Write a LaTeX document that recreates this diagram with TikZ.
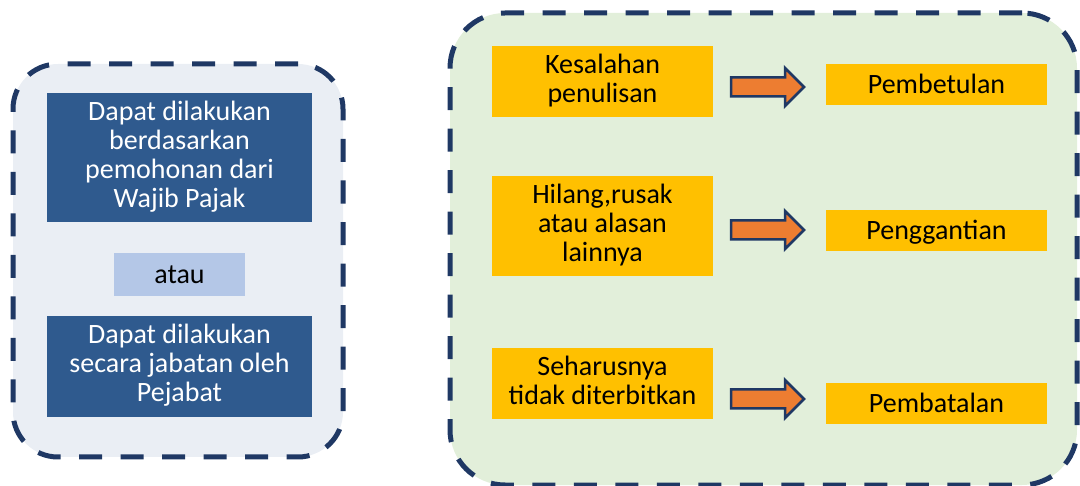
\documentclass[tikz,border=0pt]{standalone}
\usepackage{fontspec}
\setmainfont{Carlito}
\definecolor{navy}{HTML}{1F3864}
\definecolor{panelgray}{HTML}{EAEEF4}
\definecolor{panelgreen}{HTML}{E2EFDA}
\definecolor{boxblue}{HTML}{2F5A8E}
\definecolor{lightblue}{HTML}{B4C7E7}
\definecolor{boxyellow}{HTML}{FFC000}
\definecolor{arroworange}{HTML}{ED7D31}
\tikzset{
  container/.style={draw=navy, line width=5pt, dash pattern=on 23pt off 18.5pt, inner sep=0pt},
  txt/.style={font=\fontsize{28}{29}\selectfont, align=center, inner sep=0pt,
    execute at begin node={\rule{0pt}{26pt}}, execute at end node={\rule[-7pt]{0pt}{0pt}}},
  bluebox/.style={txt, fill=boxblue, text=white, minimum width=265pt},
  orbox/.style={txt, fill=lightblue, text=black, minimum width=131pt, minimum height=43pt},
  ybox/.style={txt, fill=boxyellow, text=black, minimum width=221pt},
  blockarrow/.style={draw=navy, fill=arroworange, line width=2.5pt, line join=miter},
}
\newcommand\fatarrow[1]{%
  \draw[blockarrow, shift={(#1)}] (-36.5,-9.5) -- (17.5,-9.5) -- (17.5,-19) -- (36.5,0)
    -- (17.5,19) -- (17.5,9.5) -- (-36.5,9.5) -- cycle;}
\begin{document}
\begin{tikzpicture}[x=1pt,y=-1pt]
\useasboundingbox (0,0) rectangle (1080,486);
% panels
\node[container, fill=panelgray, rounded corners=45pt, minimum width=330pt, minimum height=393pt] (leftpanel) at (178,260.5) {};
\node[container, fill=panelgreen, rounded corners=55pt, minimum width=627pt, minimum height=472pt] (rightpanel) at (763.5,249) {};
% left boxes
\node[bluebox, minimum height=129pt] (b1) at (179.5,157.5) {Dapat dilakukan\\berdasarkan\\pemohonan dari\\Wajib Pajak};
\node[orbox] (atau) at (179.5,274.5) {atau};
\node[bluebox, minimum height=101pt] (b2) at (179.5,366.5) {Dapat dilakukan\\secara jabatan oleh\\Pejabat};
% right boxes
\node[ybox, minimum height=71pt] (y1) at (602.5,81.5) {Kesalahan\\penulisan};
\node[ybox, minimum height=100pt] (y2) at (602.5,226) {Hilang,rusak\\atau alasan\\lainnya};
\node[ybox, minimum height=71pt] (y3) at (602.5,383.5) {Seharusnya\\tidak diterbitkan};
\node[ybox, minimum height=41pt] (r1) at (936.5,84.5) {Pembetulan};
\node[ybox, minimum height=41pt] (r2) at (936.5,230.5) {Penggantian};
\node[ybox, minimum height=41pt] (r3) at (936.5,403.5) {Pembatalan};
% arrows
\coordinate (a1) at (767.5,87);
\coordinate (a2) at (767.5,230);
\coordinate (a3) at (767.5,399);
\fatarrow{a1}
\fatarrow{a2}
\fatarrow{a3}
\end{tikzpicture}
\end{document}
